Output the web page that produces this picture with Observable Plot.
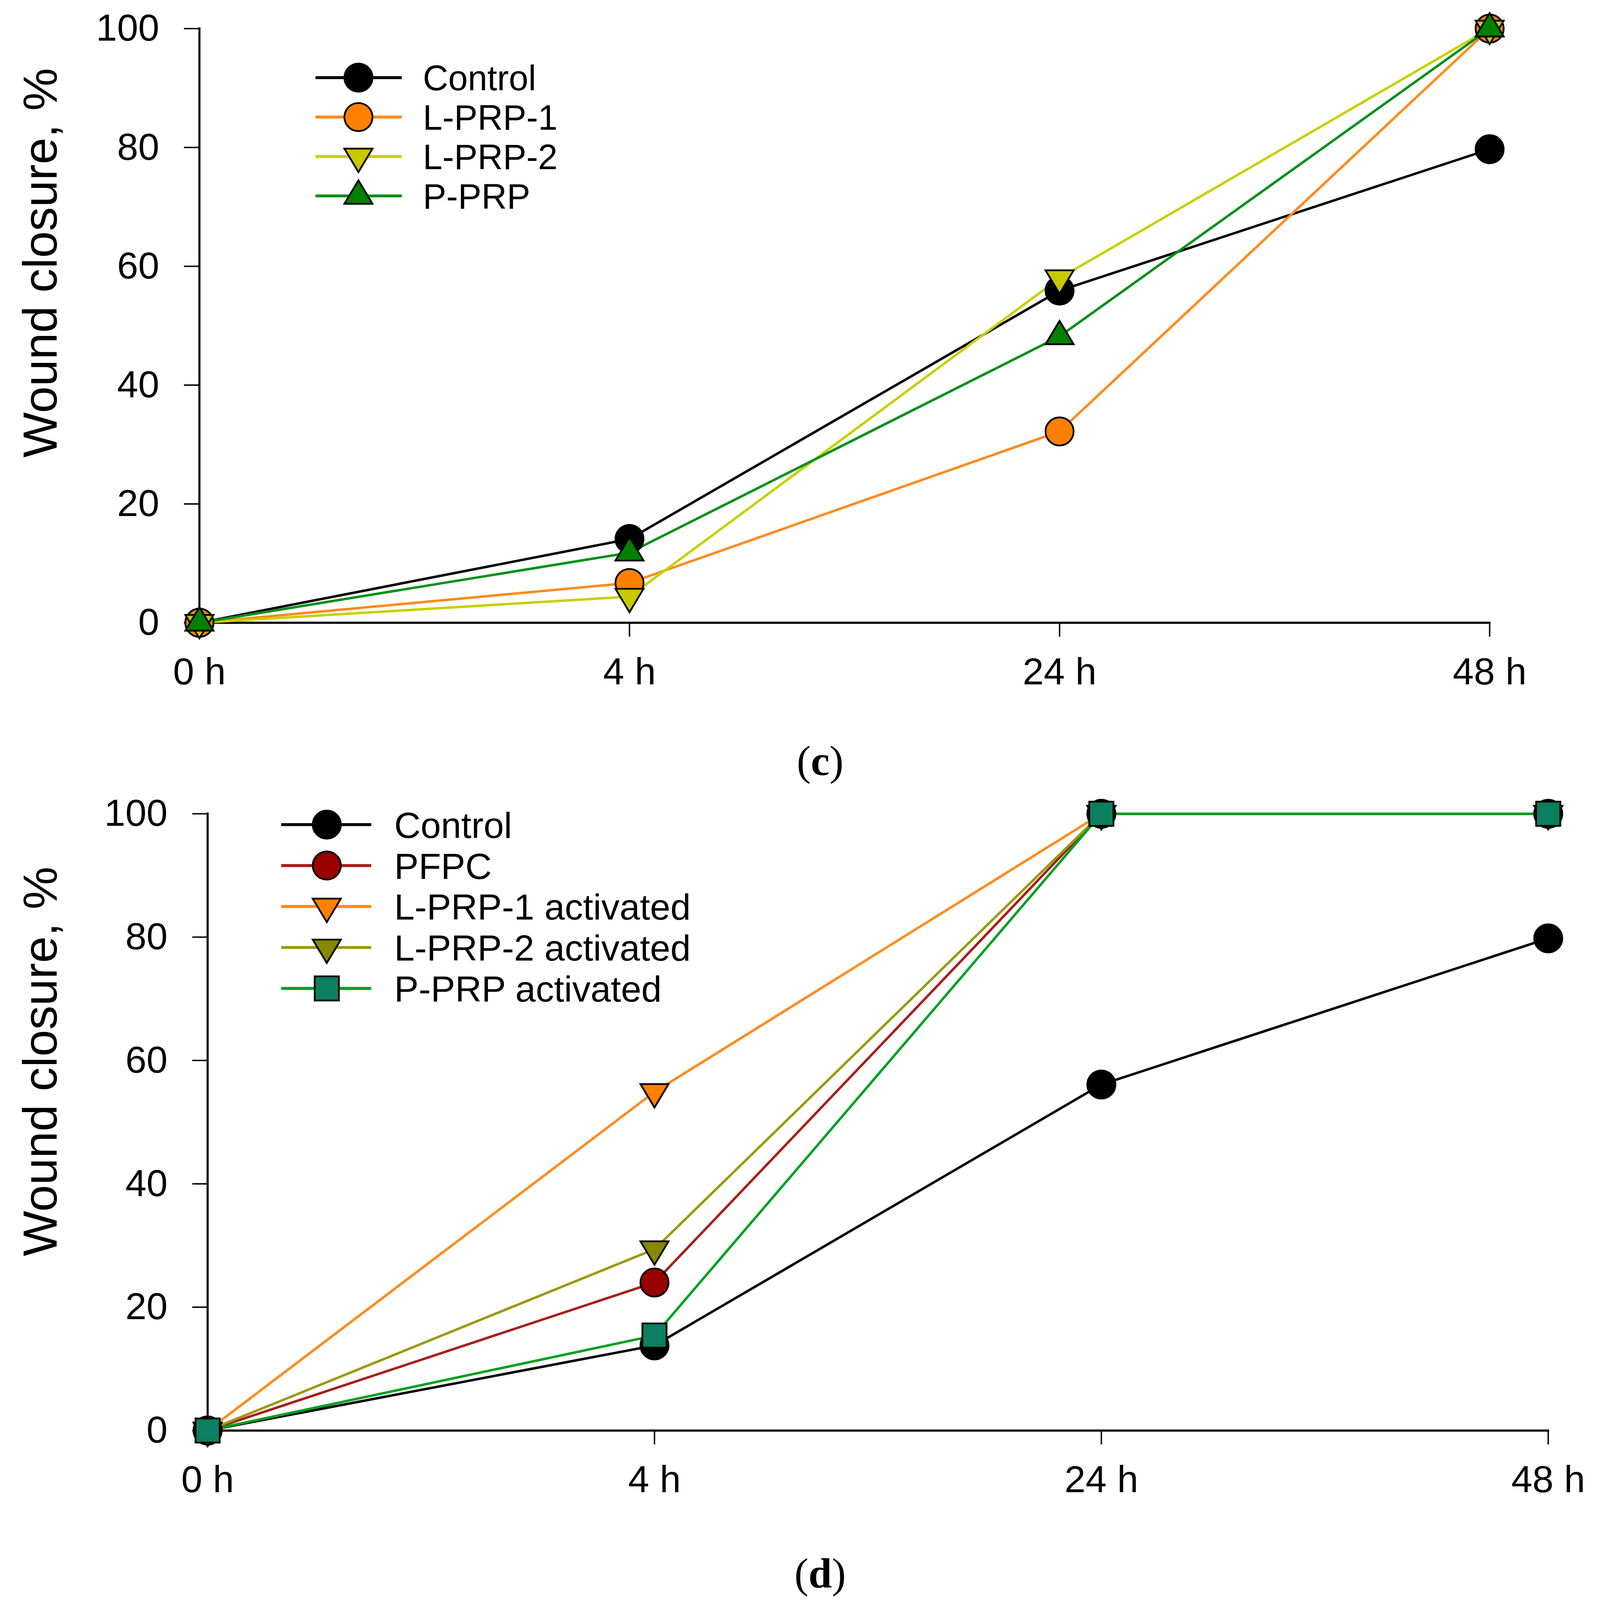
<!DOCTYPE html>
<html>
<head>
<meta charset="utf-8">
<script src="https://cdn.jsdelivr.net/npm/d3@7"></script>
<script src="https://cdn.jsdelivr.net/npm/@observablehq/plot@0.6"></script>
<style>
  html, body { margin: 0; padding: 0; background: #ffffff; overflow: hidden; }
  #page { position: relative; background: #ffffff; overflow: hidden; }
  .panel { position: absolute; left: 0; }
  .caption { position: absolute; text-align: center; font-family: "Liberation Serif", "Times New Roman", serif; line-height: 1; color: #000; white-space: nowrap; }
  #overlay { position: absolute; left: 0; top: 0; pointer-events: none; }
</style>
</head>
<body>
<div id="page">
  <div id="panelC" class="panel"></div>
  <div id="panelD" class="panel"></div>
  <div id="capC" class="caption">(<b>c</b>)</div>
  <div id="capD" class="caption">(<b>d</b>)</div>
  <svg id="overlay"></svg>
</div>
<script>
// ---------- data ----------
const timeLabels = ["0 h", "4 h", "24 h", "48 h"];
const yTicks = [0, 20, 40, 60, 80, 100];

// Panel (c)
const seriesC = ["Control", "L-PRP-1", "L-PRP-2", "P-PRP"];
const controlC = [0, 14.1, 55.9, 79.7];
const lprp1C   = [0, 6.7, 32.2, 100];
const lprp2C   = [0, 4.4, 58.0, 100];
const pprpC    = [0, 11.8, 48.2, 100];

// Panel (d)
const seriesD = ["Control", "PFPC", "L-PRP-1 activated", "L-PRP-2 activated", "P-PRP activated"];
const controlD = [0, 13.8, 56.1, 79.8];
const pfpcD    = [0, 24.0, 100, 100];
const lprp1D   = [0, 54.9, 100, 100];
const lprp2D   = [0, 29.4, 100, 100];
const pprpD    = [0, 15.4, 100, 100];

const yTitle = "Wound closure, %";

// ---------- layout scaling (design size 4245 x 5235, fitted to the real viewport) ----------
const DW = 4245, DH = 5235;
const VW = Math.min(DW, window.innerWidth || DW);
const VH = Math.min(DH, window.innerHeight || DH);
const sx = VW / DW, sy = VH / DH;
const k = Math.min(1, Math.sqrt(sx * sy) * 1.035);
const X = v => v * sx, Y = v => v * sy, F = v => v * k;

const page = document.getElementById("page");
page.style.width = VW + "px";
page.style.height = VH + "px";

// ---------- symbols ----------
const triUp = { draw(ctx, size) { const r = Math.sqrt(size / Math.PI);
  ctx.moveTo(0, -1.11 * r); ctx.lineTo(r, 0.56 * r); ctx.lineTo(-r, 0.56 * r); ctx.closePath(); } };
const triDown = { draw(ctx, size) { const r = Math.sqrt(size / Math.PI);
  ctx.moveTo(0, 1.11 * r); ctx.lineTo(r, -0.56 * r); ctx.lineTo(-r, -0.56 * r); ctx.closePath(); } };
const square = { draw(ctx, size) { const r = Math.sqrt(size / Math.PI); const h = 0.86 * r;
  ctx.moveTo(-h, -h); ctx.lineTo(h, -h); ctx.lineTo(h, h); ctx.lineTo(-h, h); ctx.closePath(); } };
const circle = d3.symbolCircle;

const stylesC = [
  { name: seriesC[0], values: controlC, line: "#000000", fill: "#000000", sym: circle },
  { name: seriesC[1], values: lprp1C,   line: "#ff8a1c", fill: "#ff8000", sym: circle },
  { name: seriesC[2], values: lprp2C,   line: "#c8d000", fill: "#c8c800", sym: triDown },
  { name: seriesC[3], values: pprpC,    line: "#00901a", fill: "#008000", sym: triUp }
];
const stylesD = [
  { name: seriesD[0], values: controlD, line: "#000000", fill: "#000000", sym: circle },
  { name: seriesD[1], values: pfpcD,    line: "#a81e1e", fill: "#990000", sym: circle },
  { name: seriesD[2], values: lprp1D,   line: "#ff8a1c", fill: "#ff8000", sym: triDown },
  { name: seriesD[3], values: lprp2D,   line: "#9a9a10", fill: "#888800", sym: triDown },
  { name: seriesD[4], values: pprpD,    line: "#00a020", fill: "#0b7f5f", sym: square }
];

const R = F(40);
const LINE_W = 7 * k;
const MARK_SW = 5 * k;
const fontFam = "'Liberation Sans', Arial, Helvetica, sans-serif";

// cfg in design-page coordinates: svg top, svg height, plot left/right/top/bottom
function makePanel(styles, cfg) {
  const top0 = Y(cfg.svgTop);
  const h = Y(cfg.svgTop + cfg.svgHeight) - top0;
  const frame = [{ y: 0, a: timeLabels[0], b: timeLabels[timeLabels.length - 1] }];
  const marks = [
    Plot.axisY({ ticks: yTicks, tickSize: X(40), tickPadding: X(66), strokeWidth: 4 * k, tickFormat: d => String(d), label: null }),
    Plot.axisX({ tickSize: Y(46), tickPadding: Y(68), strokeWidth: 4 * k, label: null }),
    Plot.ruleX([timeLabels[0]], { y1: 0, y2: 100, strokeWidth: 6 * k, strokeLinecap: "square" }),
    Plot.ruleY(frame, { y: "y", x1: "a", x2: "b", strokeWidth: 6 * k, strokeLinecap: "square" })
  ];
  for (const s of styles) {
    const rows = timeLabels.map((t, i) => ({ time: t, value: s.values[i] }));
    marks.push(Plot.line(rows, { x: "time", y: "value", stroke: s.line, strokeWidth: LINE_W }));
  }
  for (const s of styles) {
    const rows = timeLabels.map((t, i) => ({ time: t, value: s.values[i] }));
    marks.push(Plot.dot(rows, { x: "time", y: "value", r: R, symbol: s.sym, fill: s.fill, stroke: "#000", strokeWidth: MARK_SW }));
  }
  const el = Plot.plot({
    width: VW,
    height: h,
    marginLeft: X(cfg.left),
    marginRight: VW - X(cfg.right),
    marginTop: Y(cfg.top) - top0,
    marginBottom: top0 + h - Y(cfg.bottom),
    x: { type: "point", domain: timeLabels, padding: 0 },
    y: { domain: [0, 100] },
    style: { background: "transparent", color: "#000", fontFamily: fontFam, fontSize: F(108) + "px", overflow: "visible" },
    marks
  });
  return { el, top: top0 };
}

const pc = makePanel(stylesC, { svgTop: 0, svgHeight: 2400, left: 528, right: 3952, top: 93, bottom: 2037 });
const pd = makePanel(stylesD, { svgTop: 2500, svgHeight: 2560, left: 550, right: 4107, top: 2662, bottom: 4680 });
const divC = document.getElementById("panelC"); divC.style.top = pc.top + "px"; divC.append(pc.el);
const divD = document.getElementById("panelD"); divD.style.top = pd.top + "px"; divD.append(pd.el);

// captions
function placeCaption(id, cx, cy) {
  const c = document.getElementById(id);
  const fs = F(120);
  c.style.fontSize = fs + "px";
  c.style.width = "400px";
  c.style.left = (X(cx) - 200) + "px";
  c.style.top = (Y(cy) - fs * 0.5) + "px";
}
placeCaption("capC", 2176, 2490);
placeCaption("capD", 2176, 5148);

// ---------- legends and y titles (overlay) ----------
const svg = d3.select("#overlay").attr("width", VW).attr("height", VH);
function legend(styles, cfg) {
  styles.forEach((s, i) => {
    const y = Y(cfg.y0 + i * cfg.dy);
    const g = svg.append("g");
    g.append("line").attr("x1", X(cfg.x1)).attr("x2", X(cfg.x2)).attr("y1", y).attr("y2", y)
      .attr("stroke", s.line).attr("stroke-width", LINE_W + 1.5 * k);
    g.append("path").attr("transform", `translate(${X(cfg.xm)},${y})`)
      .attr("d", d3.symbol().type(s.sym).size(Math.PI * R * R)())
      .attr("fill", s.fill).attr("stroke", "#000").attr("stroke-width", MARK_SW);
    g.append("text").attr("x", X(cfg.xt)).attr("y", y).attr("dy", "0.36em")
      .attr("font-family", fontFam).attr("font-size", F(cfg.fs)).attr("fill", "#000").text(s.name);
  });
}
legend(stylesC, { y0: 254, dy: 129, x1: 837, x2: 1066, xm: 951, xt: 1122, fs: 100 });
legend(stylesD, { y0: 2698, dy: 134, x1: 746, x2: 985, xm: 867, xt: 1046, fs: 104 });

function yLabel(cx, cy) {
  svg.append("text").attr("transform", `translate(${X(cx)},${Y(cy)}) rotate(-90)`)
    .attr("text-anchor", "middle").attr("font-family", fontFam).attr("font-size", F(137))
    .attr("fill", "#000").text(yTitle);
}
yLabel(150, 860);
yLabel(150, 3473);
</script>
</body>
</html>
